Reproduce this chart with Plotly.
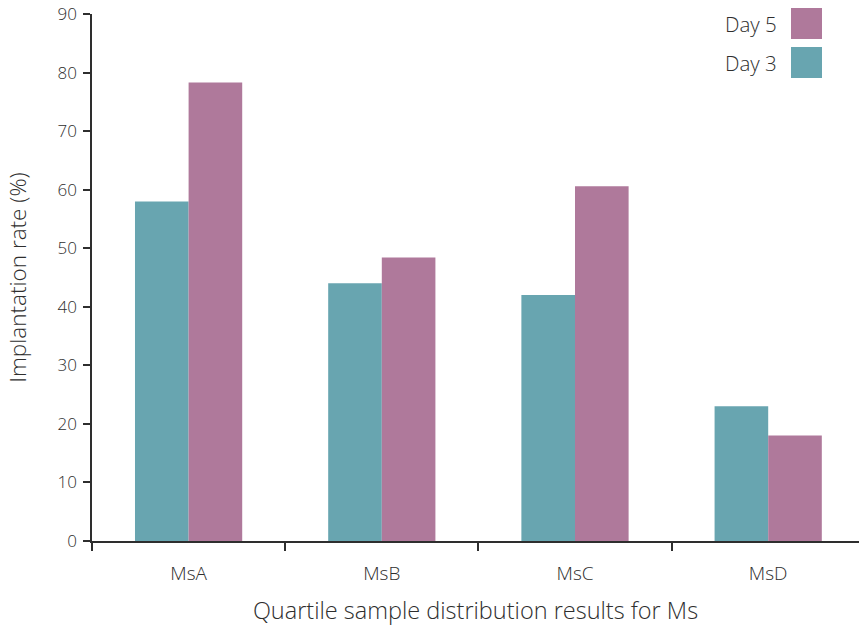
import plotly.graph_objects as go

categories = ["MsA", "MsB", "MsC", "MsD"]
day3 = [58.0, 44.0, 42.0, 23.0]
day5 = [78.3, 48.4, 60.6, 18.0]
y_ticks = [0, 10, 20, 30, 40, 50, 60, 70, 80, 90]

TEAL = "#68A5B0"
MAUVE = "#AF799B"
TXT = "#2e2e2e"
FONT = "Open Sans"
W = 300

fig = go.Figure()
fig.add_trace(go.Bar(x=categories, y=day3, name="Day 3", marker=dict(color=TEAL, line=dict(width=0)), showlegend=False))
fig.add_trace(go.Bar(x=categories, y=day5, name="Day 5", marker=dict(color=MAUVE, line=dict(width=0)), showlegend=False))

L, R, T, B = 92, 859, 14, 541
legend_items = [("Day 5", MAUVE, 8), ("Day 3", TEAL, 47)]
for label, col, top in legend_items:
    fig.add_shape(type="rect", xref="paper", yref="paper",
                  x0=(791 - L) / (R - L), x1=(822 - L) / (R - L),
                  y0=1 - (top + 31 - T) / (B - T), y1=1 - (top - T) / (B - T),
                  fillcolor=col, line=dict(width=0), layer="above")
    fig.add_annotation(xref="paper", yref="paper",
                       x=(779 - L) / (R - L), y=1 - (top + 15.5 - T) / (B - T),
                       text=label, showarrow=False, xanchor="right", yanchor="middle",
                       font=dict(family=FONT, size=20.5, color=TXT, weight=W))

fig.update_layout(
    width=859, height=628,
    margin=dict(l=L, r=0, t=T, b=628 - B),
    plot_bgcolor="white", paper_bgcolor="white",
    barmode="group", bargap=0.445, bargroupgap=0,
    font=dict(family=FONT, color=TXT, size=16, weight=W),
    xaxis=dict(
        range=[-0.5, 3.47], showline=True, linecolor=TXT, linewidth=1.5,
        ticks="outside", tickson="boundaries", ticklen=8, tickcolor=TXT, tickwidth=1.5,
        ticklabelstandoff=14,
        tickfont=dict(family=FONT, size=19, color=TXT, weight=W), showgrid=False, zeroline=False,
        title=dict(text="Quartile sample distribution results for Ms",
                   font=dict(family=FONT, size=23.5, color=TXT, weight=W), standoff=18),
    ),
    yaxis=dict(
        range=[0, 90], tickvals=y_ticks, showline=True, linecolor=TXT, linewidth=1.5,
        ticks="outside", ticklen=7, tickcolor=TXT, tickwidth=1.5, ticklabelstandoff=3,
        tickfont=dict(family=FONT, size=17, color=TXT, weight=W), showgrid=False, zeroline=False,
        title=dict(text="Implantation rate (%)", font=dict(family=FONT, size=22.5, color=TXT, weight=W), standoff=25),
    ),
)

fig.write_html("out.html", config={"displayModeBar": False},
               post_script="document.body.style.margin='0';document.body.style.overflow='hidden';")
